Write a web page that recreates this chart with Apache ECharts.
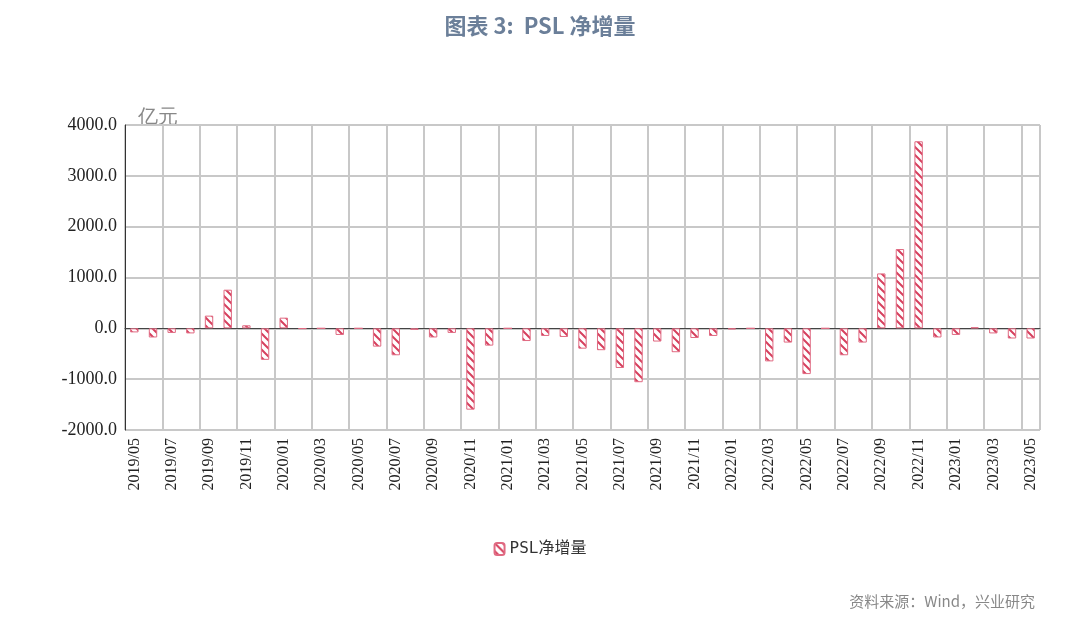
<!DOCTYPE html><html><head><meta charset="utf-8"><script src="https://cdn.jsdelivr.net/npm/echarts@6/dist/echarts.min.js"></script></head><body style="margin:0"><div id="c" style="width:1080px;height:630px"></div><script>
const categories=[];for(let y=2019,m=5;!(y===2023&&m>5);){categories.push(y+'/'+String(m).padStart(2,'0'));m++;if(m>12){m=1;y++;}}
const values=[-80,-180,-90,-100,250,760,60,-620,210,-10,0,-130,0,-360,-530,-30,-180,-90,-1600,-340,0,-250,-150,-170,-400,-430,-780,-1060,-260,-470,-190,-150,-20,0,-650,-280,-900,0,-530,-280,1080,1560,3680,-180,-130,20,-100,-200,-200];
const yTicks=[-2000,4000,1000];
const cv=document.createElement('canvas');cv.width=8;cv.height=8;const g=cv.getContext('2d');
g.fillStyle='#fff';g.fillRect(0,0,8,8);g.strokeStyle='#d6405e';g.lineWidth=2;
g.beginPath();g.moveTo(0,0);g.lineTo(8,8);g.moveTo(-4,4);g.lineTo(4,12);g.moveTo(4,-4);g.lineTo(12,4);g.stroke();
const ch=echarts.init(document.getElementById('c'));
const F='"Noto Sans CJK SC",sans-serif';
ch.setOption({animation:false,
title:{text:'图表 3:  PSL 净增量',left:'center',top:10,textStyle:{color:'#6b7f99',fontSize:22,fontWeight:'bold',fontFamily:F}},
graphic:[{type:'text',left:138,top:107,style:{text:'亿元',fontSize:20,fill:'#888',font:'20px '+F}},
{type:'text',right:45,top:594,style:{text:'资料来源：Wind，兴业研究',fill:'#888',font:'15px '+F}}],
legend:{bottom:68,left:'center',itemWidth:10,itemHeight:12,textStyle:{fontSize:16,color:'#333',fontFamily:'"DejaVu Sans Mono",'+F}},
grid:{left:125,right:40,top:125,bottom:200},
xAxis:{type:'category',data:categories,axisLine:{onZeroAxisIndex:0,lineStyle:{color:'#444'}},axisTick:{interval:1,length:5,lineStyle:{color:'#333'}},
axisLabel:{interval:1,rotate:90,fontSize:16,color:'#222',fontFamily:'"Liberation Serif",serif'},splitLine:{show:true,interval:1,lineStyle:{color:'#c8c8c8',width:2}}},
yAxis:{type:'value',min:yTicks[0],max:yTicks[1],interval:yTicks[2],axisLine:{show:true,lineStyle:{color:'#333'}},axisTick:{show:false},
axisLabel:{formatter:v=>v.toFixed(1),fontSize:18,color:'#222',fontFamily:'"Liberation Serif",serif'},splitLine:{lineStyle:{color:'#c8c8c8',width:2}}},
series:[{name:'PSL净增量',type:'bar',data:values,barWidth:'45%',itemStyle:{color:{image:cv,repeat:'repeat'},borderColor:'#e06a82',borderWidth:1}}]});
</script></body></html>
